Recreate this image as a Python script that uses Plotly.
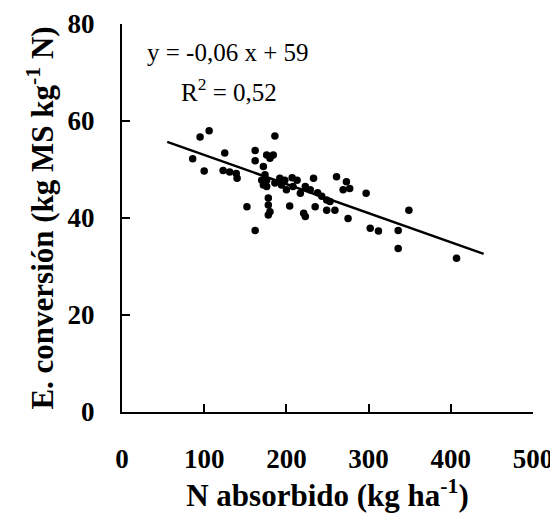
import plotly.graph_objects as go

# N absorbido (kg/ha) and E. conversion (kg MS / kg N)
n_abs = [86, 95, 106, 100, 125, 123, 131, 139, 140, 152, 162, 162, 162,
         186, 176, 184, 180, 172, 174, 172, 176, 178, 178, 180, 178,
         192, 198, 194, 200, 213, 208, 217, 223, 233, 229, 204, 221, 223,
         235, 249, 259, 253, 249, 261, 273, 269, 277, 297, 275, 302, 312,
         336, 336, 349, 407, 170, 176, 186, 207, 238, 243]
e_conv = [52.2, 56.7, 58.0, 49.7, 53.4, 49.8, 49.5, 49.2, 48.2, 42.3, 37.4, 53.9, 51.8,
          56.9, 53.0, 53.0, 52.3, 50.6, 48.9, 46.8, 46.5, 44.1, 42.7, 41.3, 40.6,
          48.2, 47.8, 46.8, 45.8, 47.8, 46.5, 45.1, 46.5, 48.2, 45.8, 42.5, 41.0, 40.3,
          42.3, 41.6, 41.6, 43.4, 43.7, 48.5, 47.5, 45.8, 46.1, 45.1, 39.9, 37.9, 37.3,
          37.4, 33.7, 41.6, 31.7, 47.8, 47.8, 47.2, 48.3, 45.2, 44.5]

# fitted line y = -0,06 x + 59
slope = -0.06
intercept = 59
fit_x = [55, 440]
fit_y = [intercept + slope * v for v in fit_x]

x_ticks = [0, 100, 200, 300, 400, 500]
y_ticks = [0, 20, 40, 60, 80]

serif = "Liberation Serif"
bold = dict(family=serif, color="black", weight="bold")

fig = go.Figure()
fig.add_trace(go.Scatter(x=n_abs, y=e_conv, mode="markers",
                         marker=dict(color="black", size=7.5), showlegend=False))
fig.add_trace(go.Scatter(x=fit_x, y=fit_y, mode="lines",
                         line=dict(color="black", width=2.5), showlegend=False))

axis_common = dict(showgrid=False, zeroline=False, showline=True, linecolor="black",
                   linewidth=2, ticks="inside", ticklen=8, tickwidth=2, tickcolor="black",
                   automargin=False, tickfont=dict(size=27, **bold))

fig.update_xaxes(range=[0, 500], tickvals=x_ticks, ticklabelstandoff=22,
                 title=dict(text="N absorbido (kg ha<sup>-1</sup>)", standoff=10,
                            font=dict(size=31, **bold)),
                 **axis_common)
fig.update_yaxes(range=[0, 80], tickvals=y_ticks, ticklabelstandoff=20,
                 title=dict(text="E. conversión (kg MS kg<sup>-1</sup> N)", standoff=5,
                            font=dict(size=31, **bold)),
                 **axis_common)

fig.add_annotation(x=129, y=74.2, xref="x", yref="y", text="y = -0,06 x + 59",
                   showarrow=False, font=dict(family=serif, size=25, color="black"))
fig.add_annotation(x=130, y=66.4, xref="x", yref="y", text="R<sup>2</sup> = 0,52",
                   showarrow=False, font=dict(family=serif, size=25, color="black"))

# page body has an 8px margin, so the figure is a bit smaller than the window
fig.update_layout(width=550, height=511, plot_bgcolor="white", paper_bgcolor="white",
                  margin=dict(l=114, r=25, t=16, b=107))

fig.write_html("out.html")
